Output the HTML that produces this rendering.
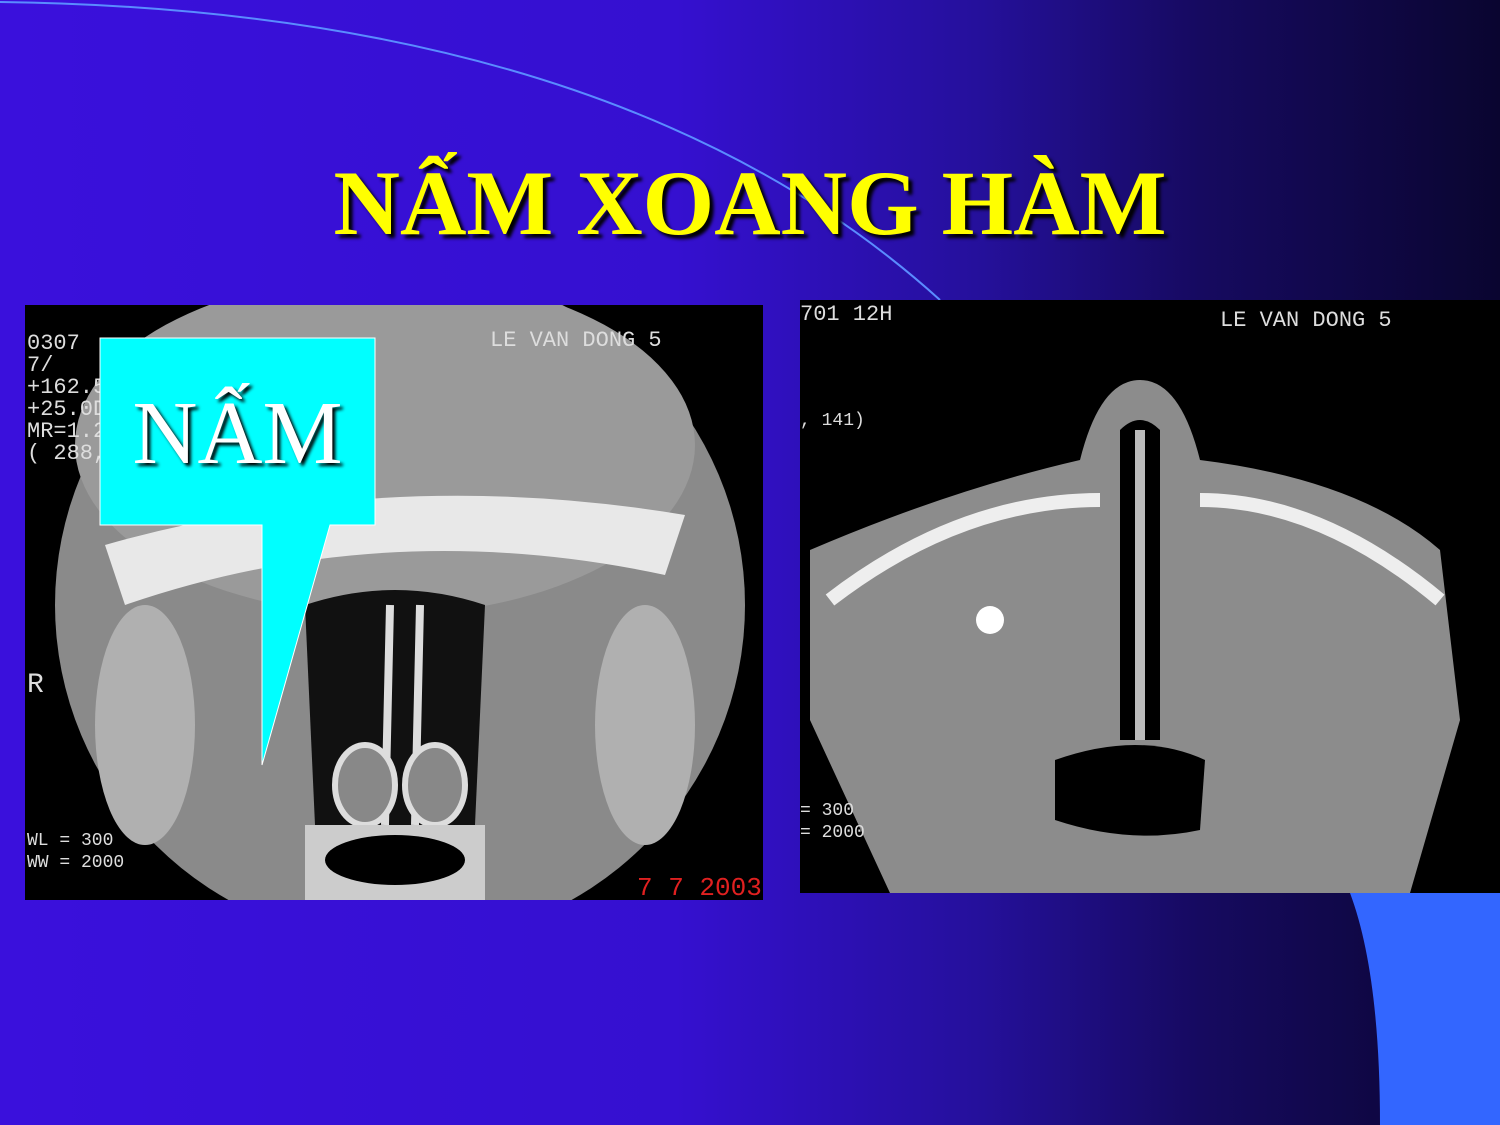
<!DOCTYPE html>
<html><head><meta charset="utf-8"><style>
body{margin:0;width:1500px;height:1125px;overflow:hidden;font-family:"Liberation Serif",serif;}
#slide{position:absolute;left:0;top:0;width:1500px;height:1125px;background:linear-gradient(90deg,#3a10dc 0%,#3510d0 45%,#25109c 65%,#160a60 80%,#0a0530 100%);}
.ct{position:absolute;background:#000;overflow:hidden;}
.mono{position:absolute;font-family:"Liberation Mono",monospace;color:#ddd;font-size:22px;white-space:pre;line-height:22px;}
</style></head><body>
<div id="slide">
<svg width="1500" height="1125" style="position:absolute;left:0;top:0">
<path d="M0,2 Q620,10 940,300" fill="none" stroke="#5a8cff" stroke-width="2"/>
</svg>
<div style="position:absolute;left:0;width:1500px;top:150px;text-align:center;font-weight:bold;font-size:92px;color:#ffff00;text-shadow:4px 4px 3px #000;">NẤM XOANG HÀM</div>

<div class="ct" style="left:25px;top:305px;width:738px;height:595px;">
<svg width="738" height="595">
<ellipse cx="375" cy="300" rx="345" ry="340" fill="#8a8a8a"/>
<ellipse cx="360" cy="140" rx="310" ry="170" fill="#9a9a9a"/>
<path d="M80,240 Q360,160 660,210 L640,270 Q360,210 100,300Z" fill="#e8e8e8"/>
<ellipse cx="120" cy="420" rx="50" ry="120" fill="#b0b0b0"/>
<ellipse cx="620" cy="420" rx="50" ry="120" fill="#b0b0b0"/>
<path d="M280,300 Q370,270 460,300 L450,520 Q370,540 290,520Z" fill="#111"/>
<path d="M365,300 L360,520 M395,300 L390,520" stroke="#ddd" stroke-width="8"/>
<ellipse cx="340" cy="480" rx="30" ry="40" fill="#888" stroke="#ddd" stroke-width="6"/>
<ellipse cx="410" cy="480" rx="30" ry="40" fill="#888" stroke="#ddd" stroke-width="6"/>
<rect x="280" y="520" width="180" height="75" fill="#ccc"/>
<ellipse cx="370" cy="555" rx="70" ry="25" fill="#000"/>
<text x="612" y="590" fill="#e02020" font-family="Liberation Mono" font-size="26">7  7 2003</text>
</svg>
<div class="mono" style="left:2px;top:28px;">0307
7/
+162.5mm
+25.0D
MR=1.2
( 288, 3</div>
<div class="mono" style="left:465px;top:25px;">LE VAN DONG 5</div>
<div class="mono" style="left:2px;top:370px;font-size:28px">R</div>
<div class="mono" style="left:2px;top:525px;font-size:18px">WL = 300
WW = 2000</div>
</div>

<div class="ct" style="left:800px;top:300px;width:700px;height:593px;">
<svg width="700" height="593">
<path d="M10,250 Q150,190 280,160 Q300,80 340,80 Q380,80 400,160 Q560,180 640,250 L660,420 L610,593 L90,593 L10,420Z" fill="#8c8c8c"/>
<path d="M30,300 Q160,200 300,200 M640,300 Q520,200 400,200" stroke="#eee" stroke-width="14" fill="none"/>
<path d="M320,130 Q340,110 360,130 L360,440 L320,440Z" fill="#000"/>
<path d="M340,130 L340,440" stroke="#bbb" stroke-width="10"/>
<path d="M255,460 Q340,430 405,460 L400,530 Q330,545 255,520Z" fill="#000"/>
<circle cx="190" cy="320" r="14" fill="#fff"/>
</svg>
<div class="mono" style="left:0;top:4px;">701 12H</div>
<div class="mono" style="left:420px;top:10px;">LE VAN DONG 5</div>
<div class="mono" style="left:0;top:110px;font-size:18px">, 141)</div>
<div class="mono" style="left:0;top:500px;font-size:18px">= 300
= 2000</div>
</div>

<div style="position:absolute;left:0;top:0;">
<svg width="400" height="780" style="position:absolute;left:0;top:0">
<path d="M100,338 L375,338 L375,525 L330,525 L262,765 L262,525 L100,525Z" fill="#00ffff" stroke="#fff" stroke-width="1"/>
</svg>
<div style="position:absolute;left:100px;top:382px;width:275px;text-align:center;color:#fff;font-size:90px;text-shadow:3px 3px 3px #000;">NẤM</div>
</div>

<svg width="150" height="232" style="position:absolute;left:1350px;top:893px">
<path d="M0,0 L150,0 L150,232 L30,232 Q30,80 0,0Z" fill="#3366ff"/>
</svg>
</div>
</body></html>
